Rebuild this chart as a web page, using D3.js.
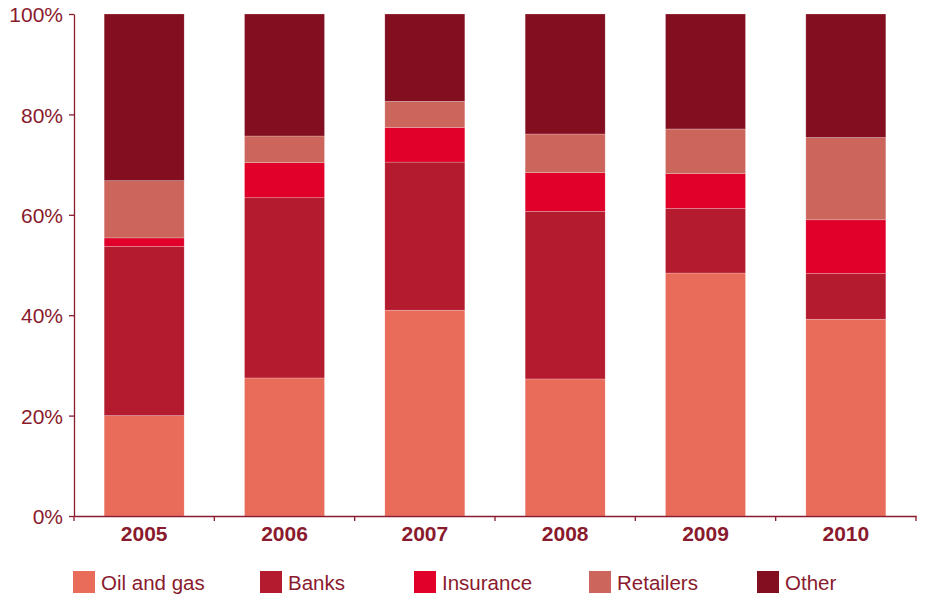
<!DOCTYPE html>
<html>
<head>
<meta charset="utf-8">
<script src="https://cdn.jsdelivr.net/npm/d3@7"></script>
<style>
  html, body { margin: 0; padding: 0; background: #fff; }
  svg { display: block; font-family: "Liberation Sans", Arial, Helvetica, sans-serif; }
</style>
</head>
<body>
<svg id="chart" width="928" height="598"></svg>
<script>
// ---- Data ----
const years = ["2005", "2006", "2007", "2008", "2009", "2010"];
const seriesNames = ["Oil and gas", "Banks", "Insurance", "Retailers", "Other"];
const oilAndGas = [20.0, 27.5, 41.0, 27.3, 48.4, 39.2];
const banks     = [33.7, 35.9, 29.5, 33.4, 12.9, 9.1];
const insurance = [1.7, 7.0, 6.9, 7.7, 6.9, 10.7];
const retailers = [11.4, 5.3, 5.2, 7.7, 8.9, 16.4];
const other     = [33.2, 24.3, 17.4, 23.9, 22.9, 24.6];
const yTicks = [0, 20, 40, 60, 80, 100];

// ---- Styles ----
const colors = ["#E96B5A", "#B51B2E", "#E0002A", "#CC665C", "#820E20"];
const inkColor = "#8A1A2D";

const seriesValues = [oilAndGas, banks, insurance, retailers, other];
const table = years.map((y, i) => {
  const row = { year: y };
  seriesNames.forEach((s, j) => row[s] = seriesValues[j][i]);
  return row;
});

const svg = d3.select("#chart");
const margin = { left: 74, right: 12, top: 14, bottom: 82 };
const W = 928, H = 598;
const plotRight = W - margin.right;
const plotBottom = H - margin.bottom;

const x = d3.scaleBand().domain(years).range([margin.left, plotRight]).paddingInner(0.43).paddingOuter(0.215);
const y = d3.scaleLinear().domain([0, 100]).range([plotBottom, margin.top]);

const stack = d3.stack().keys(seriesNames);
const stacked = stack(table);

// Bars
const g = svg.append("g");
g.selectAll("g.series")
  .data(stacked)
  .join("g")
  .attr("class", "series")
  .attr("fill", (d, i) => colors[i])
  .selectAll("rect")
  .data(d => d)
  .join("rect")
  .attr("x", d => x(d.data.year))
  .attr("width", x.bandwidth())
  .attr("y", d => y(d[1]))
  .attr("height", d => y(d[0]) - y(d[1]))
  .attr("stroke", "rgba(255,255,255,0.35)")
  .attr("stroke-width", 0.6);

// Y axis
const yAxis = svg.append("g")
  .attr("transform", `translate(${margin.left},0)`)
  .call(d3.axisLeft(y).tickValues(yTicks).tickFormat(d => d + "%").tickSize(5).tickSizeOuter(0));
yAxis.select(".domain").attr("stroke", inkColor).attr("stroke-width", 1.3);
yAxis.selectAll(".tick line").attr("stroke", inkColor).attr("stroke-width", 1.3);
yAxis.selectAll(".tick text")
  .attr("fill", inkColor)
  .attr("font-size", 21)
  .attr("x", -11)
  .attr("dy", "0.37em");

// X axis
const xAxis = svg.append("g")
  .attr("transform", `translate(0,${plotBottom})`)
  .call(d3.axisBottom(x).tickSize(0).tickSizeOuter(0));
xAxis.select(".domain").attr("stroke", inkColor).attr("stroke-width", 1.3);
xAxis.selectAll(".tick text")
  .attr("fill", inkColor)
  .attr("font-size", 21)
  .attr("font-weight", "bold")
  .attr("y", 10)
  .attr("dy", "0.71em");

// Boundary ticks between categories
const step = x.step();
const boundaries = years.map(yr => x(yr) - (step - x.bandwidth()) / 2);
boundaries.push(plotRight);
svg.append("g").selectAll("line")
  .data(boundaries)
  .join("line")
  .attr("x1", d => d).attr("x2", d => d)
  .attr("y1", plotBottom).attr("y2", plotBottom + 5)
  .attr("stroke", inkColor).attr("stroke-width", 1.3);

// Legend
const legendX = [73, 260, 414, 589, 757];
const legend = svg.append("g").attr("transform", "translate(0,571)");
const items = legend.selectAll("g")
  .data(seriesNames)
  .join("g")
  .attr("transform", (d, i) => `translate(${legendX[i]},0)`);
items.append("rect")
  .attr("width", 22).attr("height", 22)
  .attr("fill", (d, i) => colors[i]);
items.append("text")
  .attr("x", 28).attr("y", 19)
  .attr("font-size", 20.5)
  .attr("fill", inkColor)
  .text(d => d);
</script>
</body>
</html>
